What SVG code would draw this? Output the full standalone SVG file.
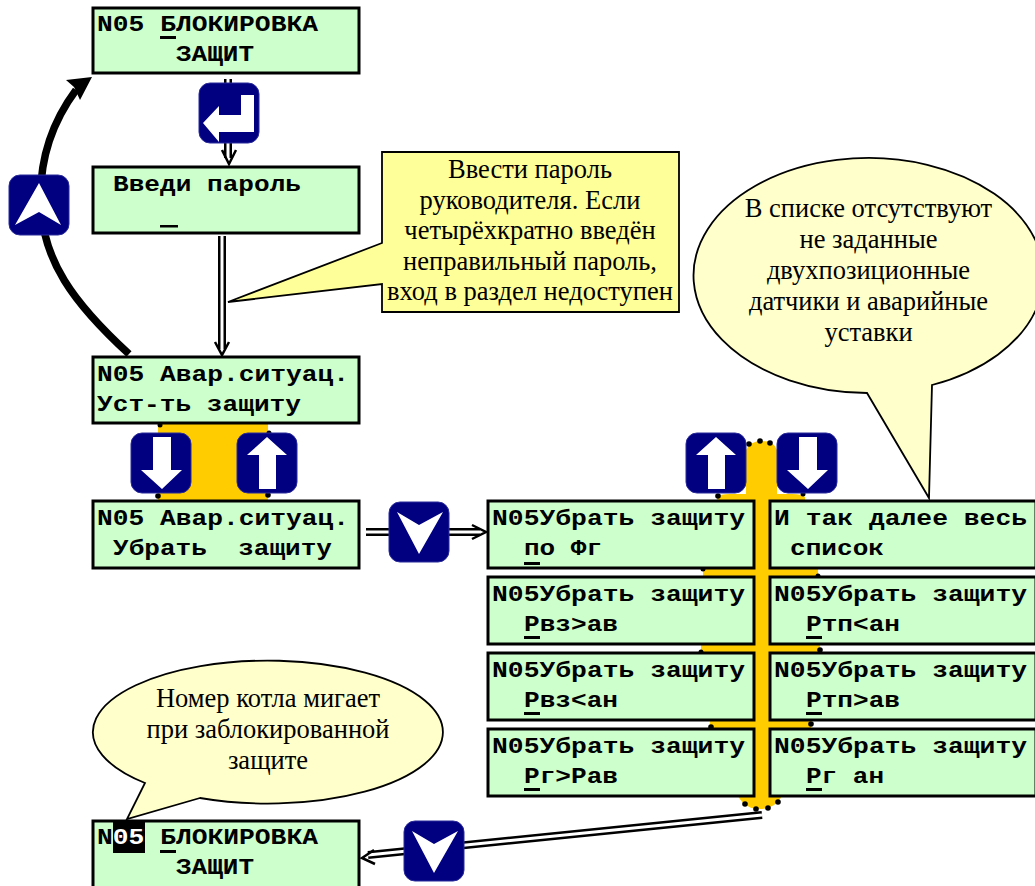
<svg xmlns="http://www.w3.org/2000/svg" width="1035" height="886" viewBox="0 0 1035 886">
<style>
.n{fill:#ccffcc;stroke:#000;stroke-width:3}
.t{font-family:"Liberation Mono",monospace;font-weight:bold;font-size:22px;fill:#000;white-space:pre}
.c{font-family:"Liberation Serif",serif;font-size:26.5px;fill:#000;text-anchor:middle}
.o{fill:#ffcc00}
.d{fill:#000}
.i{fill:#000080;stroke:#2a2a9a;stroke-width:1}
.w{fill:#fff}
.u{fill:#000}
.l1{fill:none;stroke:#000;stroke-width:8}
.l2{fill:none;stroke:#fff;stroke-width:3}
.ah{fill:none;stroke:#000;stroke-width:2.5}
.b{stroke:#000;stroke-width:1.8}
</style>
<defs>
<rect id="ib" class="i" width="60" height="60" rx="11"/>
<g id="chev"><use href="#ib"/><path class="w" d="M8 10L30 23L54 10L30 52Z"/></g>
<g id="up"><use href="#ib"/><path class="w" d="M30 4L50 22H39V56H22V22H10Z"/></g>
<g id="dn"><use href="#ib"/><path class="w" d="M22 4H40V37H51L31 56L10 37H22Z"/></g>
</defs>
<g id="connectors">
<path d="M129 354C70 300 45 260 41 210C38 165 50 125 76 90" fill="none" stroke="#000" stroke-width="7.5"/>
<path d="M92 77L66 80L74 87L80 100Z" fill="#000"/>
<path class="l1" d="M228 79V158"/><path class="l2" d="M228 79V158"/>
<path class="ah" d="M222 150L229 164L236 150"/>
<path class="l1" d="M222 236V349"/><path class="l2" d="M222 236V349"/>
<path class="ah" d="M215 342L222 355L229 342"/>
<path class="l1" d="M366 532H480"/><path class="l2" d="M366 532H480"/>
<path class="ah" d="M472 525L486 532L472 539"/>
<path class="l1" d="M762 815L368 855"/><path class="l2" d="M762 815L368 855"/>
<path class="ah" d="M374 850L362 858L375 864"/>
</g>
<g id="orange">
<path class="o" d="M158 423H268V501H158Z"/>
<path class="o" d="M717 501V497Q720 494 730 494H746V450Q750 441 762 441Q774 441 777 450V494H792Q802 494 805 497V501Z"/>
<rect class="o" x="754" y="500" width="16" height="300"/>
<rect class="o" x="703" y="567" width="115" height="11"/>
<rect class="o" x="701" y="643" width="119" height="11"/>
<rect class="o" x="710" y="719" width="101" height="11"/>
<path class="o" d="M738 796H782Q775 809 760 809Q745 809 738 796Z"/>
</g>
<g id="dots">
<circle class="d" cx="160" cy="425" r="2.5"/><circle class="d" cx="269" cy="433" r="2.5"/><circle class="d" cx="158" cy="496" r="2.8"/><circle class="d" cx="268" cy="495" r="2.8"/>
<circle class="d" cx="718" cy="496" r="2.8"/><circle class="d" cx="803" cy="494" r="2.5"/><circle class="d" cx="749" cy="444" r="2.8"/><circle class="d" cx="760" cy="441" r="2.8"/><circle class="d" cx="770" cy="443" r="2.8"/>
<circle class="d" cx="703" cy="569" r="2.5"/><circle class="d" cx="818" cy="576" r="2.5"/><circle class="d" cx="701" cy="652" r="2.5"/><circle class="d" cx="820" cy="650" r="2.8"/><circle class="d" cx="711" cy="727" r="2.8"/><circle class="d" cx="811" cy="724" r="2.8"/>
<circle class="d" cx="745" cy="804" r="2.8"/><circle class="d" cx="756" cy="809" r="2.8"/><circle class="d" cx="768" cy="808" r="2.8"/><circle class="d" cx="778" cy="802" r="2.8"/>
</g>
<g id="n1"><rect class="n" x="93" y="8" width="266" height="65"/><text class="t" x="97" y="31" textLength="221" lengthAdjust="spacingAndGlyphs">N05 БЛОКИРОВКА</text><text class="t" x="176" y="61" textLength="78" lengthAdjust="spacingAndGlyphs">ЗАЩИТ</text><rect class="u" x="160" y="36" width="16" height="3"/></g>
<g id="n2"><rect class="n" x="93" y="167" width="266" height="66"/><text class="t" x="113" y="191" textLength="188" lengthAdjust="spacingAndGlyphs">Введи пароль</text><rect class="u" x="160" y="225" width="18" height="2.5"/></g>
<g id="n3"><rect class="n" x="93" y="357" width="266" height="66"/><text class="t" x="97" y="381" textLength="252" lengthAdjust="spacingAndGlyphs">N05 Авар.ситуац.</text><text class="t" x="97" y="411" textLength="204" lengthAdjust="spacingAndGlyphs">Уст-ть защиту</text></g>
<g id="n4"><rect class="n" x="93" y="501" width="266" height="67"/><text class="t" x="97" y="525" textLength="252" lengthAdjust="spacingAndGlyphs">N05 Авар.ситуац.</text><text class="t" x="113" y="555" textLength="219" lengthAdjust="spacingAndGlyphs">Убрать  защиту</text></g>
<g id="r1"><rect class="n" x="488" y="501" width="266" height="67"/><text class="t" x="492" y="525" textLength="253" lengthAdjust="spacingAndGlyphs">N05Убрать защиту</text><text class="t" x="524" y="555" textLength="78" lengthAdjust="spacingAndGlyphs">по Фг</text><rect class="u" x="524" y="562" width="16" height="3"/></g>
<g id="r2"><rect class="n" x="488" y="577" width="266" height="67"/><text class="t" x="492" y="601" textLength="253" lengthAdjust="spacingAndGlyphs">N05Убрать защиту</text><text class="t" x="524" y="631" textLength="94" lengthAdjust="spacingAndGlyphs">Рвз&gt;ав</text><rect class="u" x="524" y="636" width="16" height="3"/></g>
<g id="r3"><rect class="n" x="488" y="653" width="266" height="67"/><text class="t" x="492" y="677" textLength="253" lengthAdjust="spacingAndGlyphs">N05Убрать защиту</text><text class="t" x="524" y="707" textLength="94" lengthAdjust="spacingAndGlyphs">Рвз&lt;ан</text><rect class="u" x="524" y="712" width="16" height="3"/></g>
<g id="r4"><rect class="n" x="488" y="729" width="266" height="67"/><text class="t" x="492" y="753" textLength="253" lengthAdjust="spacingAndGlyphs">N05Убрать защиту</text><text class="t" x="524" y="783" textLength="94" lengthAdjust="spacingAndGlyphs">Рг&gt;Рав</text><rect class="u" x="524" y="788" width="16" height="3"/></g>
<g id="s1"><rect class="n" x="770" y="501" width="266" height="67"/><text class="t" x="774" y="525" textLength="253" lengthAdjust="spacingAndGlyphs">И так далее весь</text><text class="t" x="790" y="555" textLength="94" lengthAdjust="spacingAndGlyphs">список</text></g>
<g id="s2"><rect class="n" x="770" y="577" width="266" height="67"/><text class="t" x="774" y="601" textLength="253" lengthAdjust="spacingAndGlyphs">N05Убрать защиту</text><text class="t" x="806" y="631" textLength="94" lengthAdjust="spacingAndGlyphs">Ртп&lt;ан</text><rect class="u" x="806" y="636" width="16" height="3"/></g>
<g id="s3"><rect class="n" x="770" y="653" width="266" height="67"/><text class="t" x="774" y="677" textLength="253" lengthAdjust="spacingAndGlyphs">N05Убрать защиту</text><text class="t" x="806" y="707" textLength="94" lengthAdjust="spacingAndGlyphs">Ртп&gt;ав</text><rect class="u" x="806" y="712" width="16" height="3"/></g>
<g id="s4"><rect class="n" x="770" y="729" width="266" height="67"/><text class="t" x="774" y="753" textLength="253" lengthAdjust="spacingAndGlyphs">N05Убрать защиту</text><text class="t" x="806" y="783" textLength="78" lengthAdjust="spacingAndGlyphs">Рг ан</text><rect class="u" x="806" y="788" width="16" height="3"/></g>
<g id="n5"><rect class="n" x="93" y="821" width="266" height="70"/><rect x="113" y="822" width="32" height="31" fill="#000"/><text class="t" x="97" y="844" textLength="221" lengthAdjust="spacingAndGlyphs">N<tspan fill="#fff">05</tspan> БЛОКИРОВКА</text><text class="t" x="176" y="874" textLength="78" lengthAdjust="spacingAndGlyphs">ЗАЩИТ</text><rect class="u" x="160" y="850" width="16" height="3"/></g>
<g id="note1"><path class="b" d="M382 152H679V312H382V284L228 302L382 243Z" fill="#ffff99"/>
<text class="c" x="530" y="178">Ввести пароль</text><text class="c" x="530" y="209">руководителя. Если</text><text class="c" x="530" y="239">четырёхкратно введён</text><text class="c" x="530" y="270">неправильный пароль,</text><text class="c" x="530" y="300">вход в раздел недоступен</text></g>
<g id="note2"><path class="b" d="M867 393A175 117.5 0 1 1 932 385L929 498Z" fill="#ffffcc"/>
<text class="c" x="868.5" y="217">В списке отсутствуют</text><text class="c" x="868.5" y="248">не заданные</text><text class="c" x="868.5" y="279">двухпозиционные</text><text class="c" x="868.5" y="310">датчики и аварийные</text><text class="c" x="868.5" y="341">уставки</text></g>
<g id="note3"><path class="b" d="M200 798L127 819L145 783A175 71.5 0 1 1 200 798Z" fill="#ffffcc"/>
<text class="c" x="268" y="707">Номер котла мигает</text><text class="c" x="268" y="738">при заблокированной</text><text class="c" x="268" y="769">защите</text></g>
<g id="key-enter"><use href="#ib" x="199" y="83"/><path class="w" d="M203 123L219 106V115H241V95H254V132H219V142Z"/></g>
<g id="key-esc"><use href="#chev" transform="translate(9,175) rotate(180 30 30)"/></g>
<g id="key-down1"><use href="#dn" x="131" y="433"/></g>
<g id="key-up1"><use href="#up" x="237" y="433"/></g>
<g id="key-sel1"><use href="#chev" x="389" y="502"/></g>
<g id="key-up2"><use href="#up" x="686" y="433"/></g>
<g id="key-down2"><use href="#dn" x="777" y="433"/></g>
<g id="key-sel2"><use href="#chev" x="404" y="821"/></g>
</svg>
